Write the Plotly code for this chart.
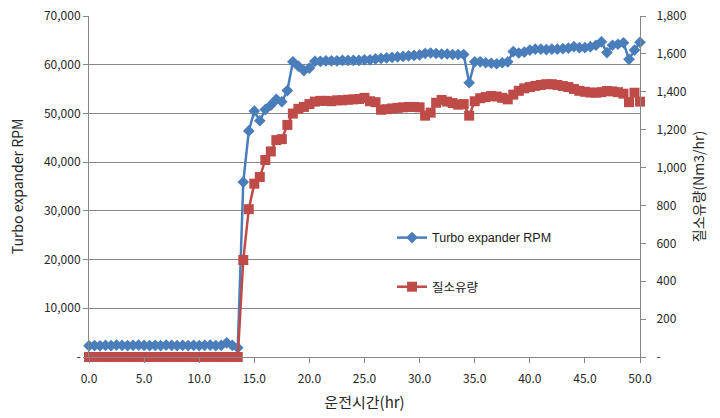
import plotly.graph_objects as go

hours = [0.0, 0.5, 1.0, 1.5, 2.0, 2.5, 3.0, 3.5, 4.0, 4.5, 5.0, 5.5, 6.0, 6.5, 7.0, 7.5,
         8.0, 8.5, 9.0, 9.5, 10.0, 10.5, 11.0, 11.5, 12.0, 12.5, 13.0, 13.5, 14.0, 14.5,
         15.0, 15.5, 16.0, 16.5, 17.0, 17.5, 18.0, 18.5, 19.0, 19.5, 20.0, 20.5, 21.0,
         21.5, 22.0, 22.5, 23.0, 23.5, 24.0, 24.5, 25.0, 25.5, 26.0, 26.5, 27.0, 27.5,
         28.0, 28.5, 29.0, 29.5, 30.0, 30.5, 31.0, 31.5, 32.0, 32.5, 33.0, 33.5, 34.0,
         34.5, 35.0, 35.5, 36.0, 36.5, 37.0, 37.5, 38.0, 38.5, 39.0, 39.5, 40.0, 40.5,
         41.0, 41.5, 42.0, 42.5, 43.0, 43.5, 44.0, 44.5, 45.0, 45.5, 46.0, 46.5, 47.0,
         47.5, 48.0, 48.5, 49.0, 49.5, 50.0]

rpm = [2300, 2350, 2300, 2400, 2350, 2450, 2400, 2350, 2400, 2450, 2400, 2350, 2400, 2350,
       2450, 2400, 2350, 2400, 2350, 2400, 2350, 2400, 2450, 2350, 2400, 2900, 2400, 1900,
       35900, 46400, 50500, 48500, 50800, 51700, 52900, 52400, 54700, 60600, 59700, 58800,
       59300, 60700, 60700, 60800, 60800, 60800, 60900, 60900, 60900, 60900, 61000, 61000,
       61200, 61300, 61400, 61500, 61600, 61700, 61800, 61900, 62000, 62300, 62400, 62300,
       62200, 62200, 62100, 62100, 62100, 56300, 60600, 60600, 60400, 60300, 60200, 60400,
       60600, 62700, 62400, 62600, 63000, 63200, 63200, 63100, 63200, 63200, 63300, 63400,
       63700, 63500, 63500, 63700, 64000, 64700, 62500, 64000, 64200, 64500, 61100, 63000,
       64600]

n2_flow = [0, 0, 0, 0, 0, 0, 0, 0, 0, 0, 0, 0, 0, 0, 0, 0, 0, 0, 0, 0, 0, 0, 0, 0, 0, 0, 0, 0,
           512, 780, 915, 950, 1040, 1085, 1145, 1150, 1225, 1285, 1310, 1320, 1335, 1348,
           1352, 1352, 1350, 1355, 1355, 1358, 1360, 1362, 1368, 1350, 1345, 1305, 1308, 1312,
           1315, 1318, 1320, 1320, 1318, 1274, 1290, 1342, 1357, 1348, 1340, 1332, 1335, 1274,
           1350, 1366, 1372, 1378, 1375, 1368, 1360, 1385, 1405, 1418, 1425, 1431, 1436, 1440,
           1440, 1436, 1430, 1425, 1415, 1405, 1400, 1396, 1395, 1398, 1404, 1402, 1398, 1390,
           1345, 1395, 1348]

x_ticks = [0, 5, 10, 15, 20, 25, 30, 35, 40, 45, 50]
x_ticktext = ["0.0", "5.0", "10.0", "15.0", "20.0", "25.0", "30.0", "35.0", "40.0", "45.0", "50.0"]
y1_ticks = [0, 10000, 20000, 30000, 40000, 50000, 60000, 70000]
y1_ticktext = ["-", "10,000", "20,000", "30,000", "40,000", "50,000", "60,000", "70,000"]
y2_ticks = [0, 200, 400, 600, 800, 1000, 1200, 1400, 1600, 1800]
y2_ticktext = ["-", "200", "400", "600", "800", "1,000", "1,200", "1,400", "1,600", "1,800"]

BLUE = "#4A7EBB"
RED = "#BE4B48"
AXIS = "#868686"
FONT = "Noto Sans CJK KR, sans-serif"
TXT = "#262626"
LEGFONT = dict(family="Liberation Sans, Noto Sans CJK KR, sans-serif", size=12.5, color="#1a1a1a")

fig = go.Figure()
fig.add_trace(go.Scatter(
    x=hours, y=n2_flow, name="질소유량", yaxis="y2", mode="lines+markers",
    line=dict(color=RED, width=2.5),
    marker=dict(symbol="square", size=10, color=RED),
    cliponaxis=False, legend="legend2", showlegend=True))
fig.add_trace(go.Scatter(
    x=hours, y=rpm, name="Turbo expander RPM", mode="lines+markers",
    line=dict(color=BLUE, width=2.5),
    marker=dict(symbol="diamond", size=9, color=BLUE),
    cliponaxis=False, legend="legend", showlegend=True))

fig.update_layout(
    width=720, height=418,
    margin=dict(l=89, r=80, t=16, b=61),
    paper_bgcolor="white", plot_bgcolor="white",
    showlegend=True,
    font=dict(family=FONT, size=12, color=TXT),
    xaxis=dict(range=[0, 50], tickvals=x_ticks, ticktext=x_ticktext,
               showline=True, linecolor=AXIS, linewidth=1,
               ticks="outside", ticklen=5, tickcolor=AXIS, ticklabelstandoff=6,
               showgrid=False, zeroline=False, automargin=False,
               title=dict(text="운전시간(hr)", font=dict(size=15, family=FONT), standoff=12),
               tickfont=dict(size=12)),
    yaxis=dict(range=[0, 70000], tickvals=y1_ticks, ticktext=y1_ticktext,
               showline=True, linecolor=AXIS, linewidth=1,
               ticks="outside", ticklen=5, tickcolor=AXIS,
               showgrid=True, gridcolor=AXIS, gridwidth=1, zeroline=False, automargin=False,
               title=dict(text="Turbo expander RPM", font=dict(size=14, family=FONT), standoff=17),
               tickfont=dict(size=12)),
    yaxis2=dict(range=[0, 1800], tickvals=y2_ticks, ticktext=y2_ticktext,
                overlaying="y", side="right",
                showline=True, linecolor=AXIS, linewidth=1,
                ticks="outside", ticklen=5, tickcolor=AXIS, ticklabelstandoff=8,
                showgrid=False, zeroline=False, automargin=False,
                title=dict(text="질소유량(Nm3/hr)", font=dict(size=14, family=FONT), standoff=8),
                tickfont=dict(size=12)),
    legend=dict(x=0.55, y=0.349, xanchor="left", yanchor="middle",
                bgcolor="rgba(0,0,0,0)", font=LEGFONT),
    legend2=dict(x=0.55, y=0.205, xanchor="left", yanchor="middle",
                 bgcolor="rgba(0,0,0,0)", font=LEGFONT),
)

fig.write_html("out.html")
